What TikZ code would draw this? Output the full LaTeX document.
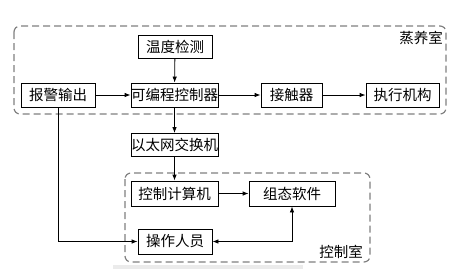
\documentclass[tikz,border=0pt]{standalone}
\usepackage{fontspec}
\newfontfamily\cjk{Noto Sans CJK SC}
\usetikzlibrary{arrows.meta}
\begin{document}
\begin{tikzpicture}[x=1pt,y=-1pt,
  blk/.style={draw=black,line width=0.8pt,inner sep=0pt,minimum height=24pt,font=\cjk\fontsize{14.5}{15}\selectfont},
  arr/.style={line width=0.8pt,-{Latex[length=6pt,width=4.5pt]}},
  room/.style={draw=black!50,line width=1.2pt,dash pattern=on 7pt off 4pt,rounded corners=6pt},
  lbl/.style={font=\cjk\fontsize{14.5}{15}\selectfont,inner sep=0pt}]
\useasboundingbox (0,0) rectangle (465,277);
\fill[black!8] (113,265) rectangle (303,269);
\draw[room] (14,26) rectangle (446,114);
\draw[room] (125,173) rectangle (370,262);
\node[lbl] (zys) at (421,38) {蒸养室};
\node[lbl] (kzs) at (341,252) {控制室};
\node[blk,minimum width=74pt,minimum height=23pt] (wd) at (175,46.5) {温度检测};
\node[blk,minimum width=74pt] (bj) at (58,95) {报警输出};
\node[blk,minimum width=87pt] (plc) at (174.5,95) {可编程控制器};
\node[blk,minimum width=61pt] (jcq) at (291.5,95) {接触器};
\node[blk,minimum width=73pt] (zx) at (402.5,95) {执行机构};
\node[blk,minimum width=87pt,minimum height=23pt] (ytw) at (174.5,145) {以太网交换机};
\node[blk,minimum width=87pt,minimum height=25pt] (jsj) at (174.5,193.5) {控制计算机};
\node[blk,minimum width=86pt,minimum height=25pt] (zt) at (292,193.5) {组态软件};
\node[blk,minimum width=74pt,minimum height=25pt] (cz) at (175,241.5) {操作人员};
\coordinate (c1) at (58,241.5);
\coordinate (c2) at (292,241.5);
\draw[arr] (wd) -- (plc);
\draw[arr] (bj) -- (plc);
\draw[arr] (plc) -- (jcq);
\draw[arr] (jcq) -- (zx);
\draw[arr] (plc) -- (ytw);
\draw[arr] (ytw) -- (jsj);
\draw[arr] (jsj) -- (zt);
\draw[arr] (bj.south) -- (c1) -- (cz.west);
\draw[line width=0.8pt,{Latex[length=6pt,width=4.5pt]}-{Latex[length=6pt,width=4.5pt]}] (cz.east) -- (c2) -- (zt.south);
\end{tikzpicture}
\end{document}
